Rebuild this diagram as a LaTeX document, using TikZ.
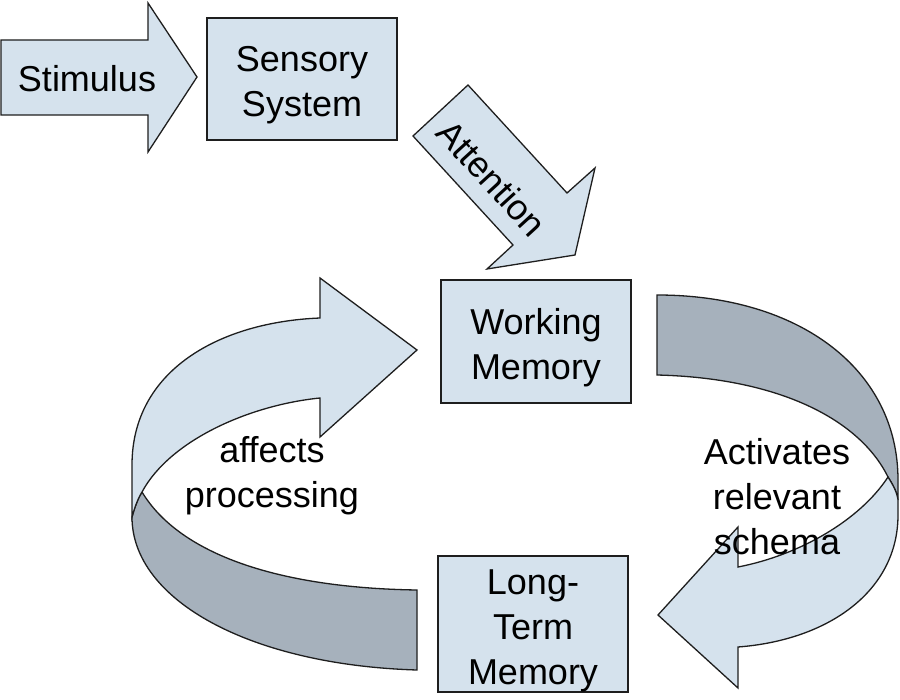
\documentclass[tikz,border=0pt]{standalone}
\usepackage{fontspec}
\setmainfont{Liberation Sans}
\definecolor{lightfill}{HTML}{D5E2ED}
\definecolor{darkfill}{HTML}{A6B1BC}
\definecolor{edgecol}{HTML}{1E1E1E}
\begin{document}
\begin{tikzpicture}[x=1pt,y=-1pt,
  lightarrow/.style={fill=lightfill, draw=edgecol, line width=1.3pt, line join=miter},
  darkarrow/.style={fill=darkfill, draw=edgecol, line width=1.3pt, line join=miter},
  boxstyle/.style={rectangle, fill=lightfill, draw=edgecol, line width=1.3pt, inner sep=0pt},
  lbl/.style={align=center, inner sep=0pt, font=\fontsize{36}{45}\selectfont, text=black}]
\useasboundingbox[fill=white] (0,0) rectangle (900,700);

% Stimulus block arrow
\draw[lightarrow] (1,40) -- (148,40) -- (148,3) -- (197,77) -- (148,152) -- (148,115) -- (1,115) -- cycle;

% Attention block arrow
\draw[lightarrow] (413,136) -- (468,85) -- (567,193) -- (595,168) -- (575,255) -- (487,269) -- (513,245) -- cycle;

% Left curved arrow (affects processing)
\draw[darkarrow] (142,492) .. controls (180,555) and (280,588) .. (417,590) -- (417,670)
  .. controls (250,665) and (132,600) .. (132,517) .. controls (134,510) and (137,500) .. (142,492) -- cycle;
\draw[lightarrow] (132,517) -- (132,465) .. controls (132,370) and (220,322) .. (320,318)
  -- (320,278) -- (417,350) -- (320,437) -- (320,398)
  .. controls (250,405) and (170,440) .. (142,492) .. controls (137,500) and (134,510) .. (132,517) -- cycle;

% Right curved arrow (activates relevant schema)
\draw[darkarrow] (657,295) .. controls (800,295) and (898,370) .. (898,480) -- (898,500)
  .. controls (897,492) and (893,485) .. (888,477) .. controls (860,420) and (780,378) .. (657,375) -- cycle;
\draw[lightarrow] (888,477) .. controls (893,485) and (897,492) .. (898,500) -- (898,515)
  .. controls (898,590) and (830,640) .. (738,647) -- (738,688) -- (658,615) -- (738,527) -- (738,567)
  .. controls (800,555) and (860,520) .. (888,477) -- cycle;

% Boxes
\node[boxstyle, minimum width=190pt, minimum height=122pt] (sensory) at (302,79) {};
\node[boxstyle, minimum width=190pt, minimum height=123pt] (working) at (536,341.5) {};
\node[boxstyle, minimum width=190pt, minimum height=136pt] (longterm) at (533,624) {};

% Texts
\node[lbl] (stimtext) at (87,79) {Stimulus};
\node[lbl] (senstext) at (302,85) {Sensory\\System};
\node[lbl, rotate=-47.5] (atttext) at (492,178) {Attention};
\node[lbl] (worktext) at (536,348) {Working\\Memory};
\node[lbl] (ltmtext) at (533,631) {Long-\\Term\\Memory};
\node[lbl] (afftext) at (272,476) {affects\\processing};
\node[lbl] (acttext) at (777,497) {Activates\\relevant\\schema};
\end{tikzpicture}
\end{document}
